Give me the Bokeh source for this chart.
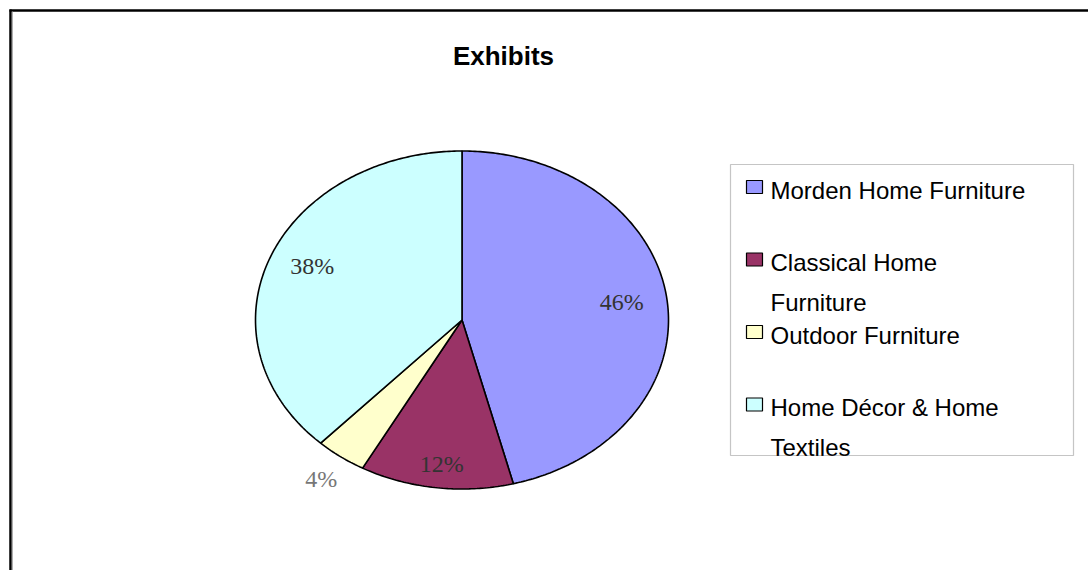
import numpy as np
from bokeh.plotting import figure
from bokeh.models import Range1d, BoxAnnotation, Label
from bokeh.core.properties import value
from bokeh.embed import file_html
from bokeh.resources import INLINE

# ---- data ----
title_text = "Exhibits"
categories = ["Morden Home Furniture", "Classical Home Furniture",
              "Outdoor Furniture", "Home Décor & Home Textiles"]
shares = [46, 12, 4, 38]
colors = ["#9999FF", "#993366", "#FFFFCC", "#CCFFFF"]
legend_lines = [["Morden Home Furniture"], ["Classical Home", "Furniture"],
                ["Outdoor Furniture"], ["Home Décor & Home", "Textiles"]]

W, H = 1088, 570
p = figure(width=W, height=H, x_range=Range1d(0, W), y_range=Range1d(H, 0),
           x_axis_type=None, y_axis_type=None, toolbar_location=None,
           output_backend="svg", min_border=0, outline_line_color=None,
           background_fill_color="white", border_fill_color="white")
p.grid.visible = False

# frame lines (chart area border, left & top)
p.segment(x0=[10, 9], y0=[9, 10], x1=[10, W], y1=[H, 10],
          line_color="black", line_width=2.5)
p.segment(x0=[11.8], y0=[11], x1=[11.8], y1=[H], line_color="#9a9a9a", line_width=1)

# pie (elliptical)
cx, cy, rx, ry = 461.5, 319.5, 206.5, 169.0
vals = np.array(shares, dtype=float)
frac = vals / vals.sum()
ends = 2 * np.pi * np.cumsum(frac)
starts = ends - 2 * np.pi * frac
xs, ys = [], []
for a0, a1 in zip(starts, ends):
    t = np.linspace(a0, a1, max(int((a1 - a0) * 80), 6))
    xs.append([cx] + list(cx + rx * np.sin(t)))
    ys.append([cy] + list(cy - ry * np.cos(t)))
p.patches(xs, ys, fill_color=colors, line_color="black", line_width=1.6)

# percentage labels
mid = (starts + ends) / 2
outside = frac < 0.05
fx = np.where(outside, 1.16, 0.78)
fy = np.where(outside, 1.16, 0.86)
lx = cx + fx * rx * np.sin(mid)
ly = cy - fy * ry * np.cos(mid)
p.text(x=list(lx), y=list(ly), text=[f"{s}%" for s in shares],
       text_font=value("Liberation Serif"), text_font_size="24px",
       text_align="center", text_baseline="middle",
       text_color=["#777777" if o else "#333333" for o in outside])

# title
p.add_layout(Label(x=503, y=55.5, text=title_text, text_font="Liberation Sans",
                   text_font_size="26px", text_font_style="bold",
                   text_align="center", text_baseline="middle",
                   text_color="black"))

# legend (manual)
lx0, base0, item_gap, line_gap = 770, 189.5, 72.5, 39.5
tx, ty, tt = [], [], []
mx, my = [], []
for i, lines in enumerate(legend_lines):
    yc = base0 + i * item_gap
    mx.append(754)
    my.append(yc - 3)
    for j, line in enumerate(lines):
        tx.append(lx0)
        ty.append(yc + j * line_gap)
        tt.append(line)
p.rect(x=mx, y=my, width=16, height=13, fill_color=colors,
       line_color="black", line_width=1.2)
p.text(x=tx, y=ty, text=tt, text_font=value("Liberation Sans"),
       text_font_size="24px", text_align="left", text_baseline="middle",
       text_color="black")

p.add_layout(BoxAnnotation(left=729, right=1074, top=455.5, bottom=480,
                           fill_color="white", fill_alpha=1, line_color=None))
p.add_layout(BoxAnnotation(left=730, right=1073, top=164, bottom=455,
                           fill_alpha=0, line_color="#404040", line_width=1.2))

open("out.html", "w").write(file_html(p, INLINE))
